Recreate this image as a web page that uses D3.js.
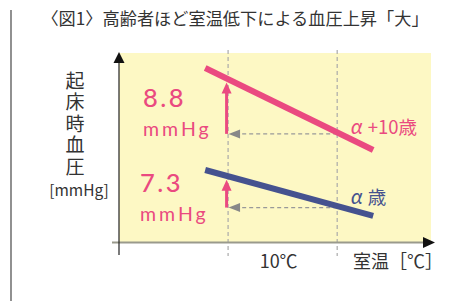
<!DOCTYPE html>
<html><head><meta charset="utf-8">
<script src="https://cdn.jsdelivr.net/npm/d3@7"></script>
<style>body{margin:0;background:#fff;}svg{display:block;}</style>
</head><body>
<script>
// ---- data ----
const title = "〈図1〉高齢者ほど室温低下による血圧上昇「大」";
const seriesNames = ["α", "+10歳", "歳"];
const lineTemps = [7.9, 23.3];          // line endpoints (°C, schematic)
const olderValues = [92.1, 48.7];       // α+10歳 (schematic index)
const youngerValues = [38.1, 13.8];     // α歳 (schematic index)
const refTemps = [10, 20];              // dashed reference temperatures
const riseValues = ["8.8", "7.3"];
const riseUnit = "mmHg";
const yLabel = "起床時血圧";
const yUnit = "[mmHg]";
const xTickLabel = "10℃";
const xLabel = "室温［℃］";

// ---- styles ----
const W = 461, H = 301;
const pink = "#ea4a80", blue = "#45528f", yellow = "#fdf8c4";
const jp = "'Noto Sans CJK JP', 'Noto Sans', sans-serif";
const lato = "Lato, 'Noto Sans', sans-serif";

const svg = d3.select("body").append("svg").attr("width", W).attr("height", H);

const x = d3.scaleLinear().domain([0, 28.6]).range([119, 431]);
const y = d3.scaleLinear().domain([0, 100]).range([242, 53]);

// left frame line
svg.append("line").attr("x1", 11).attr("x2", 11).attr("y1", 10).attr("y2", H)
  .attr("stroke", "#555").attr("stroke-width", 1.3);

// title
svg.append("text").attr("x", 235).attr("y", 24.5).attr("text-anchor", "middle")
  .attr("font-family", jp).attr("font-size", 17.2).attr("fill", "#333").text(title);

// background
svg.append("rect").attr("x", x(0)).attr("y", y(100)).attr("width", x(28.6) - x(0))
  .attr("height", y(0) - y(100)).attr("fill", yellow);

// reference dashed verticals
svg.selectAll(".ref").data(refTemps).join("line")
  .attr("x1", d => x(d)).attr("x2", d => x(d)).attr("y1", 50).attr("y2", 256)
  .attr("stroke", "#aaa").attr("stroke-width", 1.2).attr("stroke-dasharray", "4,3");

// x axis
svg.append("line").attr("x1", 112).attr("x2", 426).attr("y1", y(0) + 0.5).attr("y2", y(0) + 0.5)
  .attr("stroke", "#9a9a8c").attr("stroke-width", 2.2);
svg.append("path").attr("d", `M${423},${y(0) - 5}L${435},${y(0) + 0.5}L${423},${y(0) + 6}Z`).attr("fill", "#111");
// y axis
svg.append("line").attr("x1", x(0)).attr("x2", x(0)).attr("y1", 255).attr("y2", 60)
  .attr("stroke", "#222").attr("stroke-width", 1.2);
svg.append("path").attr("d", `M${x(0) - 5.5},${63}L${x(0)},${52}L${x(0) + 5.5},${63}Z`).attr("fill", "#111");

// series
const series = [
  { vals: olderValues, color: pink },
  { vals: youngerValues, color: blue }
];
series.forEach((s, i) => {
  const f = d3.scaleLinear().domain(lineTemps).range(s.vals);
  const v10 = f(refTemps[0]), v20 = f(refTemps[1]);
  const hy = y(v20) + 1.5;
  // gray dashed arrow
  svg.append("line").attr("x1", x(refTemps[1])).attr("x2", x(refTemps[0]) + 12)
    .attr("y1", hy).attr("y2", hy).attr("stroke", "#999").attr("stroke-width", 1.2)
    .attr("stroke-dasharray", "4,3");
  svg.append("path").attr("d", `M${x(refTemps[0]) + 0.5},${hy}L${x(refTemps[0]) + 12},${hy - 4.5}L${x(refTemps[0]) + 12},${hy + 4.5}Z`)
    .attr("fill", "#888");
  // pink rise arrow
  const ax = x(refTemps[0]) - 1.5;
  const tip = y(v10) + 3.5;
  svg.append("line").attr("x1", ax).attr("x2", ax).attr("y1", hy).attr("y2", tip + 9)
    .attr("stroke", pink).attr("stroke-width", 3);
  svg.append("path").attr("d", `M${ax - 5},${tip + 11}L${ax},${tip}L${ax + 5},${tip + 11}Z`).attr("fill", pink);
  // the line
  svg.append("line").attr("x1", x(lineTemps[0])).attr("x2", x(lineTemps[1]))
    .attr("y1", y(s.vals[0])).attr("y2", y(s.vals[1]))
    .attr("stroke", s.color).attr("stroke-width", 6);
});

// rise labels
const riseBase = [107, 192];
riseValues.forEach((r, i) => {
  svg.append("text").attr("x", i === 0 ? 143 : 140).attr("y", riseBase[i])
    .attr("font-family", lato).attr("font-size", 25.5).attr("font-weight", 500).attr("letter-spacing", 2.5)
    .attr("fill", pink).text(r);
  svg.append("text").attr("x", i === 0 ? 143 : 140).attr("y", riseBase[i] + 28.5)
    .attr("font-family", lato).attr("font-size", 19.5).attr("letter-spacing", 3)
    .attr("fill", pink).text(riseUnit);
});

// series labels
const l1 = svg.append("text").attr("x", 351).attr("y", 134).attr("font-family", jp)
  .attr("font-size", 18.5).attr("fill", pink);
l1.append("tspan").attr("font-style", "italic").attr("font-family", lato).attr("font-size", 21).text(seriesNames[0]);
l1.append("tspan").attr("dx", 5).text(seriesNames[1]);
const l2 = svg.append("text").attr("x", 351).attr("y", 204).attr("font-family", jp)
  .attr("font-size", 18.5).attr("fill", blue);
l2.append("tspan").attr("font-style", "italic").attr("font-family", lato).attr("font-size", 21).text(seriesNames[0]);
l2.append("tspan").attr("dx", 5).text(seriesNames[2]);

// y label (vertical)
svg.append("text").attr("x", 75).attr("y", 71)
  .style("writing-mode", "vertical-rl").attr("letter-spacing", 2.5)
  .attr("font-family", jp).attr("font-size", 19).attr("fill", "#333").text(yLabel);
svg.append("text").attr("x", 79).attr("y", 196).attr("text-anchor", "middle")
  .attr("font-family", jp).attr("font-size", 15.5).attr("fill", "#333").text(yUnit);

// x labels
svg.append("text").attr("x", (x(refTemps[0]) + x(refTemps[1])) / 2 - 4).attr("y", 268)
  .attr("text-anchor", "middle").attr("font-family", jp).attr("font-size", 18).attr("fill", "#333")
  .text(xTickLabel);
svg.append("text").attr("x", 353).attr("y", 268).attr("font-family", jp)
  .attr("font-size", 18).attr("fill", "#333").text(xLabel);
</script>
</body></html>
